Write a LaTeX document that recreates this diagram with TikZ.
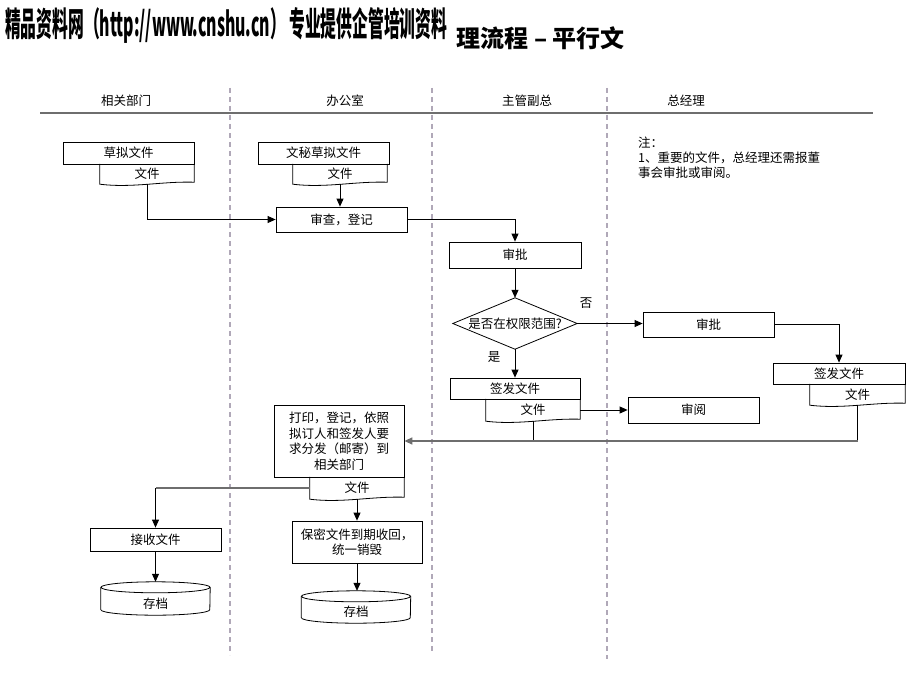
\documentclass[tikz,border=0pt]{standalone}
\usepackage{fontspec}
\usepackage{graphicx}
\setmainfont{Noto Sans CJK SC}
\usetikzlibrary{arrows.meta,calc}
\definecolor{lanecol}{HTML}{B0A8B8}
\definecolor{rulecol}{HTML}{6E6E6E}
\tikzset{
  txt/.style={inner sep=0, font=\fontsize{12.5}{15.5}\selectfont},
  box/.style={draw, line width=0.8pt, inner sep=0, font=\fontsize{12.5}{15.5}\selectfont, align=center},
  ghost/.style={inner sep=0, font=\fontsize{12.5}{15.5}\selectfont, align=center},
  arr/.style={-{Triangle[length=8pt,width=7pt]}, line width=0.8pt},
  thickarr/.style={-{Triangle[length=8pt,width=7pt]}, line width=1.4pt, draw=rulecol},
  lane/.style={draw=lanecol, line width=1.3pt, dash pattern=on 5pt off 4pt},
  rule/.style={draw=rulecol, line width=1.8pt}
}
\newcommand\docpath[1]{\draw[line width=0.8pt] (#1.north west) -- (#1.south west) .. controls ($(#1.south west)!0.35!(#1.south east)+(0,4)$) and ($(#1.south west)!0.65!(#1.south east)+(0,-3)$) .. ($(#1.south east)+(0,-2)$) -- (#1.north east);}
\newcommand\cylpath[1]{%
  \draw[line width=0.8pt] ($(#1.north)+(0,5.5)$) ellipse [x radius=54.5, y radius=5.5];
  \draw[line width=0.8pt] ($(#1.north west)+(0,5.5)$) -- ($(#1.south west)+(0,-5.5)$) arc[start angle=180, end angle=0, x radius=54.5, y radius=5.5] -- ($(#1.north east)+(0,5.5)$);}
\begin{document}
\begin{tikzpicture}[x=1pt,y=-1pt]
\useasboundingbox[fill=white] (0,0) rectangle (920,690);

% title
\node[anchor=west, inner sep=0] (wmk) at (5,25) {\resizebox{442pt}{29pt}{\bfseries 精品资料网（http://www.cnshu.cn） 专业提供企管培训资料}};
\node[anchor=east, inner sep=0, font=\fontsize{24}{28}\selectfont\bfseries] (title) at (625,38) {理流程 – 平行文};

% lanes
\node[txt] (h1) at (126,101) {相关部门};
\node[txt] (h2) at (345,101) {办公室};
\node[txt] (h3) at (527,101) {主管副总};
\node[txt] (h4) at (686,101) {总经理};
\coordinate (r1) at (40,113);
\coordinate (r2) at (873,113);
\draw[rule] (r1) -- (r2);
\coordinate (l1a) at (230,88); \coordinate (l1b) at (230,655);
\coordinate (l2a) at (432,88); \coordinate (l2b) at (432,652);
\coordinate (l3a) at (607,88); \coordinate (l3b) at (607,659);
\draw[lane] (l1a) -- (l1b);
\draw[lane] (l2a) -- (l2b);
\draw[lane] (l3a) -- (l3b);

% note
\node[txt, anchor=north west, align=left, font=\fontsize{12.5}{15}\selectfont] (note) at (638,137) {注：\\1、重要的文件，总经理还需报董\\事会审批或审阅。};

% nodes
\node[box, minimum width=131, minimum height=22] (cf) at (128.5,153) {草拟文件};
\node[ghost, minimum width=94, minimum height=20] (d0) at (147,174) {文件};
\node[box, minimum width=131, minimum height=22] (wm) at (323.5,153) {文秘草拟文件};
\node[ghost, minimum width=94, minimum height=20] (dw) at (340,174) {文件};
\node[box, minimum width=131, minimum height=25] (sc) at (341.5,219.5) {审查，登记};
\node[box, minimum width=132, minimum height=26] (sp1) at (515,255) {审批};
\node[ghost, minimum width=124, minimum height=51] (dm) at (515,323.5) {是否在权限范围?};
\draw[line width=0.8pt] (dm.north) -- (dm.east) -- (dm.south) -- (dm.west) -- cycle;
\node[box, minimum width=131, minimum height=25] (sp2) at (708.5,324.5) {审批};
\node[box, minimum width=130, minimum height=21] (qf1) at (515,388.5) {签发文件};
\node[ghost, minimum width=94, minimum height=22] (df1) at (533,410) {文件};
\node[box, minimum width=131, minimum height=26] (sy) at (693.5,410) {审阅};
\node[box, minimum width=132, minimum height=21] (qf2) at (839,373.5) {签发文件};
\node[ghost, minimum width=95, minimum height=21] (df2) at (857.5,394.5) {文件};
\node[box, minimum width=130, minimum height=72, font=\fontsize{12.5}{15.5}\selectfont] (dy) at (339,441) {打印，登记，依照\\拟订人和签发人要\\求分发（邮寄）到\\相关部门};
\node[ghost, minimum width=94, minimum height=22] (df3) at (357,488) {文件};
\node[box, minimum width=131, minimum height=23] (js) at (155.5,539.5) {接收文件};
\node[box, minimum width=130, minimum height=42] (bm) at (357,542) {保密文件到期收回，\\统一销毁};
\node[ghost, minimum width=109, minimum height=33, label={[txt, yshift=-5pt]center:存档}] (s1) at (155.5,598.5) {};
\node[ghost, minimum width=109, minimum height=32, label={[txt, yshift=-5pt]center:存档}] (s2) at (356,607) {};
\docpath{d0}
\docpath{dw}
\docpath{df1}
\docpath{df2}
\docpath{df3}
\cylpath{s1}
\cylpath{s2}

% labels
\node[txt] (no) at (586,303) {否};
\node[txt] (yes) at (494,357) {是};

% connectors
\draw[arr] (d0.south) |- (sc.west);
\draw[arr] (dw.south) -- (dw.south |- sc.north);
\draw[arr] (sc.east) -| (sp1.north);
\draw[arr] (sp1.south) -- (dm.north);
\draw[arr] (dm.east) -- (dm.east -| sp2.west);
\draw[arr] (sp2.east) -| (qf2.north);
\draw[arr] (dm.south) -- (qf1.north);
\draw[arr] (df1.east) -- (sy.west);
\draw[line width=0.8pt] (df1.south) -- (df1.south |- dy.east);
\draw[line width=0.8pt] (df2.south) -- (df2.south |- dy.east);
\draw[thickarr] (df2.south |- dy.east) -- (dy.east);
\coordinate (jc) at (js.north |- df3.west);
\draw[line width=1.4pt, draw=rulecol] (df3.west) -- (jc);
\draw[arr] (jc) -- (js.north);
\draw[arr] (df3.south) -- (bm.north);
\draw[arr] (js.south) -- (js.south |- s1.north);
\draw[arr] (bm.south) -- (bm.south |- s2.north);
\end{tikzpicture}
\end{document}
